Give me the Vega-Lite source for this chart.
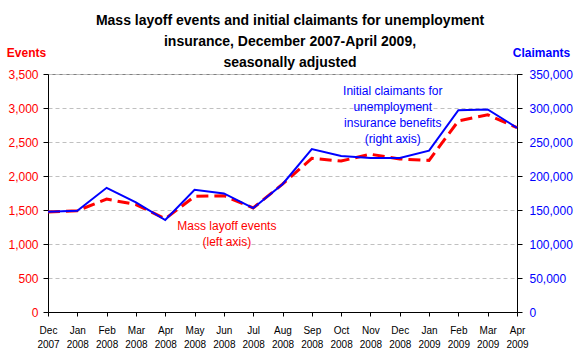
{
  "$schema": "https://vega.github.io/schema/vega-lite/v6.json",
  "width": 469,
  "height": 238,
  "autosize": {"type": "none"},
  "padding": {"left": 48, "top": 74, "right": 63, "bottom": 48},
  "background": "white",
  "config": {
    "font": "Liberation Sans",
    "view": {"stroke": "#808080", "strokeWidth": 1}
  },
  "title": {
    "text": ["Mass layoff events and initial claimants for unemployment", "insurance, December 2007-April 2009,", "seasonally adjusted"],
    "font": "Liberation Sans",
    "fontSize": 14,
    "fontWeight": "bold",
    "color": "black",
    "lineHeight": 21,
    "anchor": "middle",
    "dx": 7.5,
    "offset": -24
  },
  "data": {
    "values": [
      {"month": "Dec 2007", "events": 1470, "claimants": 147400},
      {"month": "Jan 2008", "events": 1490, "claimants": 148900},
      {"month": "Feb 2008", "events": 1660, "claimants": 182600},
      {"month": "Mar 2008", "events": 1580, "claimants": 161100},
      {"month": "Apr 2008", "events": 1370, "claimants": 135200},
      {"month": "May 2008", "events": 1700, "claimants": 179600},
      {"month": "Jun 2008", "events": 1710, "claimants": 174300},
      {"month": "Jul 2008", "events": 1530, "claimants": 152800},
      {"month": "Aug 2008", "events": 1880, "claimants": 187900},
      {"month": "Sep 2008", "events": 2260, "claimants": 239700},
      {"month": "Oct 2008", "events": 2220, "claimants": 229400},
      {"month": "Nov 2008", "events": 2320, "claimants": 226500},
      {"month": "Dec 2008", "events": 2250, "claimants": 226500},
      {"month": "Jan 2009", "events": 2230, "claimants": 237200},
      {"month": "Feb 2009", "events": 2810, "claimants": 296800},
      {"month": "Mar 2009", "events": 2900, "claimants": 297800},
      {"month": "Apr 2009", "events": 2710, "claimants": 270900}
    ]
  },
  "encoding": {
    "x": {
      "field": "month",
      "type": "ordinal",
      "sort": null,
      "scale": {
        "type": "point",
        "padding": 0,
        "domain": ["Dec 2007", "Jan 2008", "Feb 2008", "Mar 2008", "Apr 2008", "May 2008", "Jun 2008", "Jul 2008", "Aug 2008", "Sep 2008", "Oct 2008", "Nov 2008", "Dec 2008", "Jan 2009", "Feb 2009", "Mar 2009", "Apr 2009"]
      },
      "axis": {
        "title": null,
        "labelAngle": 0,
        "labelExpr": "split(datum.label, ' ')",
        "labelFontSize": 10,
        "labelColor": "black",
        "labelLineHeight": 14.5,
        "labelPadding": 9,
        "tickSize": 4,
        "tickColor": "black",
        "domainColor": "black",
        "grid": false
      }
    }
  },
  "layer": [
    {
      "layer": [
        {
          "mark": {"type": "line", "color": "#FF0000", "strokeWidth": 3, "strokeDash": [12, 6]},
          "encoding": {
            "y": {
              "field": "events",
              "type": "quantitative",
              "scale": {"domain": [0, 3500]},
              "axis": {
                "orient": "left",
                "values": [0, 500, 1000, 1500, 2000, 2500, 3000, 3500],
                "format": ",.0f",
                "labelColor": "#FF0000",
                "labelFontSize": 12,
                "labelPadding": 5,
                "tickSize": 5,
                "tickColor": "black",
                "domainColor": "black",
                "grid": true,
                "gridColor": "#C0C0C0",
                "gridDash": [4, 3],
                "title": "Events",
                "titleAngle": 0,
                "titleColor": "#FF0000",
                "titleFontSize": 12,
                "titleFontWeight": "bold",
                "titleAlign": "center",
                "titleBaseline": "middle",
                "titleX": -22,
                "titleY": -22
              }
            }
          }
        },
        {
          "data": {"values": [{"month": "Jun 2008", "events": 1265, "label": "Mass layoff events\n(left axis)"}]},
          "mark": {"type": "text", "color": "#FF0000", "fontSize": 12, "lineBreak": "\n", "lineHeight": 16, "align": "center", "baseline": "middle", "dx": 3},
          "encoding": {
            "y": {"field": "events", "type": "quantitative", "axis": null},
            "text": {"field": "label"}
          }
        }
      ],
      "resolve": {"axis": {"y": "independent"}}
    },
    {
      "layer": [
        {
          "mark": {"type": "line", "color": "#0000FF", "strokeWidth": 2},
          "encoding": {
            "y": {
              "field": "claimants",
              "type": "quantitative",
              "scale": {"domain": [0, 350000]},
              "axis": {
                "orient": "right",
                "values": [0, 50000, 100000, 150000, 200000, 250000, 300000, 350000],
                "format": ",.0f",
                "labelColor": "#0000FF",
                "labelFontSize": 12,
                "labelPadding": 7,
                "tickSize": 5,
                "tickColor": "black",
                "domainColor": "black",
                "grid": false,
                "title": "Claimants",
                "titleAngle": 0,
                "titleColor": "#0000FF",
                "titleFontSize": 12,
                "titleFontWeight": "bold",
                "titleAlign": "center",
                "titleBaseline": "middle",
                "titleX": 24,
                "titleY": -22
              }
            }
          }
        },
        {
          "data": {"values": [{"month": "Dec 2008", "claimants": 325400, "label": "Initial claimants for\nunemployment\ninsurance benefits\n(right axis)"}]},
          "mark": {"type": "text", "color": "#0000FF", "fontSize": 12, "lineBreak": "\n", "lineHeight": 16, "align": "center", "baseline": "middle", "dx": -7},
          "encoding": {
            "y": {"field": "claimants", "type": "quantitative", "axis": null},
            "text": {"field": "label"}
          }
        }
      ],
      "resolve": {"axis": {"y": "independent"}}
    }
  ],
  "resolve": {"scale": {"y": "independent"}}
}
